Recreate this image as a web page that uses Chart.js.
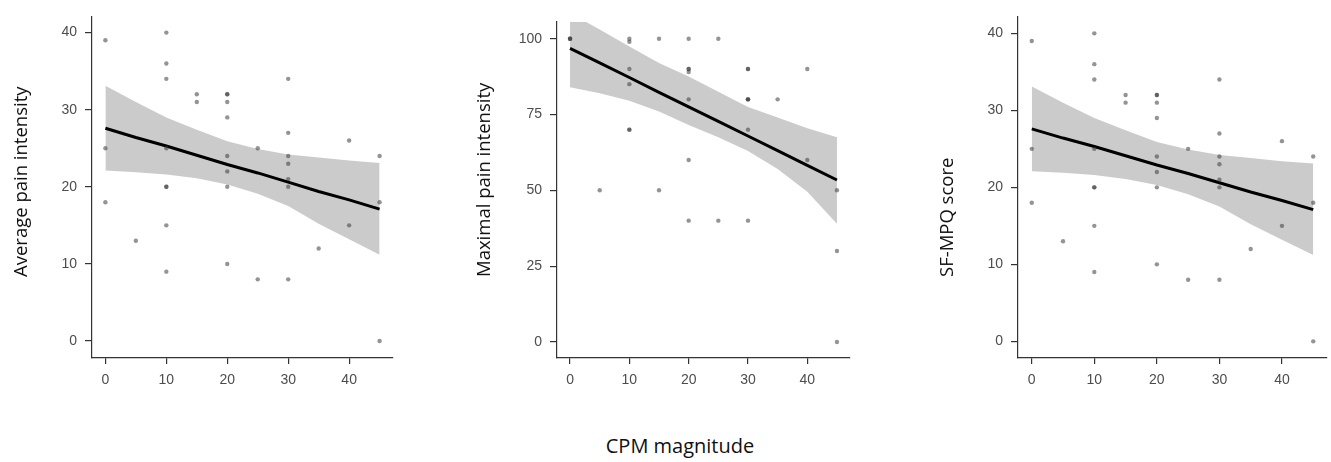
<!DOCTYPE html>
<html>
<head>
<meta charset="utf-8">
<script src="https://cdn.jsdelivr.net/npm/chart.js@4.4.1/dist/chart.umd.min.js"></script>
<style>
    body { margin: 0; background: #fff; width: 1331px; height: 462px; position: relative; overflow: hidden; }
    .panel { position: absolute; top: 0; height: 400px; }
    .ytitle {
        position: absolute; top: 277px; white-space: nowrap;
        transform: rotate(-90deg); transform-origin: 0 0;
        font-family: 'Open Sans', sans-serif; font-size: 18.5px; line-height: 22px; color: #111;
    }
    #xtitle {
        position: absolute; left: 0; width: 1360px; top: 434px; text-align: center;
        font-family: 'Open Sans', sans-serif; font-size: 20px; line-height: 24px; color: #111;
    }
</style>
</head>
<body>
<div class="panel" style="left:0;width:440px"><canvas id="avgChart"></canvas></div>
<div class="panel" style="left:460px;width:420px"><canvas id="maxChart"></canvas></div>
<div class="panel" style="left:920px;width:411px"><canvas id="sfChart"></canvas></div>
<div class="ytitle" style="left:9px">Average pain intensity</div>
<div class="ytitle" style="left:472px">Maximal pain intensity</div>
<div class="ytitle" style="left:935px">SF-MPQ score</div>
<div id="xtitle">CPM magnitude</div>
<script>
// x ticks shared by all panels, fit evaluated at these CPM values
const cpmTicks = [0, 10, 20, 30, 40];
const fitX = [0, 5, 10, 15, 20, 25, 30, 35, 40, 45];

// Average pain intensity (same values appear in the SF-MPQ panel)
const avgCpm  = [0, 0, 0, 5, 10, 10, 10, 10, 10, 10, 10, 10, 15, 15, 20, 20, 20, 20, 20, 20, 20, 20, 25, 25, 30, 30, 30, 30, 30, 30, 30, 35, 40, 40, 45, 45, 45];
const avgPain = [39, 25, 18, 13, 40, 36, 34, 25, 20, 20, 15, 9, 32, 31, 32, 32, 31, 29, 24, 22, 20, 10, 25, 8, 34, 27, 24, 23, 21, 20, 8, 12, 26, 15, 24, 18, 0];
const avgFit   = [27.6, 26.4, 25.3, 24.1, 22.9, 21.8, 20.6, 19.4, 18.3, 17.1];
const avgUpper = [33.1, 31.0, 29.0, 27.4, 25.9, 24.9, 24.2, 23.8, 23.4, 23.1];
const avgLower = [22.1, 21.9, 21.6, 21.1, 20.3, 19.1, 17.5, 15.2, 13.2, 11.2];
const avgTicks = [0, 10, 20, 30, 40];

// Maximal pain intensity
const maxCpm  = [0, 0, 0, 5, 10, 10, 10, 10, 10, 10, 15, 15, 20, 20, 20, 20, 20, 20, 20, 25, 25, 30, 30, 30, 30, 30, 30, 30, 35, 40, 40, 45, 45, 45];
const maxPain = [100, 100, 100, 50, 100, 99, 90, 85, 70, 70, 100, 50, 100, 90, 90, 89, 80, 60, 40, 100, 40, 90, 90, 80, 80, 80, 70, 40, 80, 90, 60, 50, 30, 0];
const maxFit   = [96.8, 92.0, 87.2, 82.3, 77.5, 72.7, 67.9, 63.1, 58.2, 53.4];
const maxUpper = [108.5, 103, 97.4, 92, 87.5, 82.5, 77.5, 74, 70.5, 67.5];
const maxLower = [84, 82, 79.5, 76, 71.5, 67.5, 63, 57, 49.5, 39];
const maxTicks = [0, 25, 50, 75, 100];

// SF-MPQ score
const sfCpm   = avgCpm;
const sfScore = [39, 25, 18, 13, 40, 36, 34, 25, 20, 20, 15, 9, 32, 31, 32, 32, 31, 29, 24, 22, 20, 10, 25, 8, 34, 27, 24, 23, 21, 20, 8, 12, 26, 15, 24, 18, 0];
const sfFit   = [27.6, 26.4, 25.3, 24.1, 22.9, 21.8, 20.6, 19.4, 18.3, 17.1];
const sfUpper = [33.1, 31.0, 29.0, 27.4, 25.9, 24.9, 24.2, 23.8, 23.4, 23.1];
const sfLower = [22.1, 21.9, 21.6, 21.1, 20.3, 19.1, 17.5, 15.2, 13.2, 11.2];
const sfTicks = [0, 10, 20, 30, 40];

const AXIS = '#333333';
const TICK_TEXT = '#4d4d4d';

function pairs(xs, ys) {
    return ys.map((y, i) => ({ x: xs[i], y: y }));
}

function makePanel(id, opts) {
    const ctx = document.getElementById(id).getContext('2d');
    return new Chart(ctx, {
        type: 'scatter',
        data: {
            datasets: [
                {
                    type: 'line',
                    data: pairs(fitX, opts.upper),
                    borderWidth: 0,
                    pointRadius: 0,
                    fill: false,
                    order: 3,
                },
                {
                    type: 'line',
                    data: pairs(fitX, opts.lower),
                    borderWidth: 0,
                    pointRadius: 0,
                    backgroundColor: '#cbcbcb',
                    fill: '-1',
                    order: 2,
                },
                {
                    type: 'line',
                    data: pairs(fitX, opts.fit),
                    borderColor: '#000',
                    borderWidth: 3,
                    pointRadius: 0,
                    fill: false,
                    tension: 0,
                    order: 1,
                },
                {
                    data: pairs(opts.xs, opts.ys),
                    backgroundColor: 'rgba(60, 60, 60, 0.55)',
                    borderWidth: 0,
                    pointRadius: 2.2,
                    order: 0,
                }
            ]
        },
        options: {
            responsive: true,
            maintainAspectRatio: false,
            animation: false,
            layout: {
                padding: { left: 0, top: opts.top, right: opts.right, bottom: 0 }
            },
            plugins: {
                legend: { display: false },
                tooltip: { enabled: false },
            },
            scales: {
                x: {
                    type: 'linear',
                    min: -2.2,
                    max: 47.2,
                    afterBuildTicks: s => { s.ticks = cpmTicks.map(v => ({ value: v })); },
                    afterFit: s => { s.height = 42; },
                    border: { display: true, color: AXIS, width: 1.2 },
                    grid: { drawOnChartArea: false, drawTicks: true, tickLength: 6, color: AXIS, lineWidth: 1.2 },
                    ticks: {
                        color: TICK_TEXT,
                        padding: 8,
                        maxRotation: 0,
                        font: { family: "'Liberation Sans', Arial, sans-serif", size: 14 },
                    }
                },
                y: {
                    type: 'linear',
                    min: opts.ymin,
                    max: opts.ymax,
                    afterBuildTicks: s => { s.ticks = opts.yticks.map(v => ({ value: v })); },
                    afterFit: s => { s.width = opts.yWidth; },
                    border: { display: true, color: AXIS, width: 1.2 },
                    grid: { drawOnChartArea: false, drawTicks: true, tickLength: 7, color: AXIS, lineWidth: 1.2 },
                    ticks: {
                        color: TICK_TEXT,
                        padding: 8,
                        font: { family: "'Liberation Sans', Arial, sans-serif", size: 14 },
                    }
                }
            }
        }
    });
}

makePanel('avgChart', {
    xs: avgCpm, ys: avgPain, fit: avgFit, upper: avgUpper, lower: avgLower,
    yticks: avgTicks, ymin: -2.2, ymax: 42.1, yWidth: 92, top: 15, right: 47,
});
makePanel('maxChart', {
    xs: maxCpm, ys: maxPain, fit: maxFit, upper: maxUpper, lower: maxLower,
    yticks: maxTicks, ymin: -5.3, ymax: 105.5, yWidth: 97, top: 22, right: 30,
});
makePanel('sfChart', {
    xs: sfCpm, ys: sfScore, fit: sfFit, upper: sfUpper, lower: sfLower,
    yticks: sfTicks, ymin: -2.16, ymax: 42.2, yWidth: 98, top: 3, right: 2,
});
</script>
</body>
</html>
